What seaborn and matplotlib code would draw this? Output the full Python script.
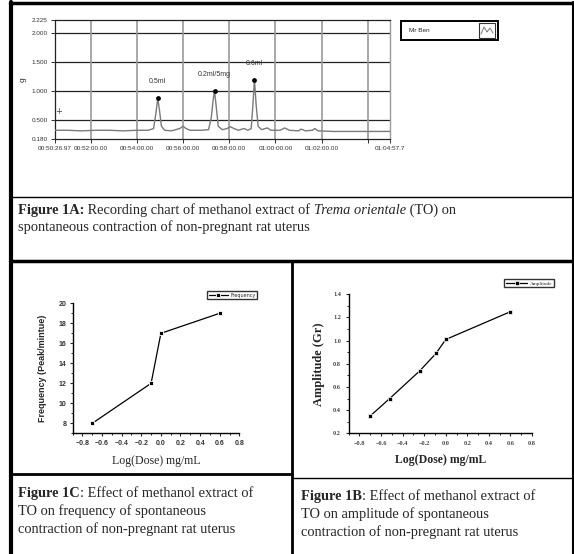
import matplotlib
matplotlib.use("Agg")
import matplotlib.pyplot as plt
import seaborn as sns
import pandas as pd
import numpy as np
from matplotlib.patches import Rectangle
from matplotlib.lines import Line2D
from matplotlib.ticker import MultipleLocator

# ---------------- data ----------------
# Figure 1A: recording trace (time in minutes after 00:00, tension in g)
trace_t = [50.45, 51.0, 51.6, 52.2, 52.8, 53.4, 54.0, 54.5, 54.72, 54.82, 54.9, 54.98, 55.06,
           55.2, 55.5, 55.85, 56.0, 56.12, 56.3, 56.8, 57.1, 57.22, 57.3, 57.36, 57.43, 57.52,
           57.7, 57.9, 58.05, 58.2, 58.4, 58.55, 58.65, 58.8, 58.95, 59.02, 59.09, 59.16, 59.25,
           59.4, 59.55, 59.65, 59.8, 60.2, 60.4, 60.6, 61.0, 61.1, 61.3, 61.6, 61.7, 61.85, 62.5,
           63.5, 64.96]
trace_v = [0.33, 0.33, 0.32, 0.33, 0.33, 0.32, 0.33, 0.33, 0.36, 0.62, 0.88, 0.66, 0.40,
           0.33, 0.32, 0.36, 0.40, 0.36, 0.33, 0.33, 0.34, 0.55, 0.85, 1.01, 0.75, 0.40,
           0.34, 0.36, 0.39, 0.36, 0.33, 0.35, 0.36, 0.33, 0.36, 0.75, 1.20, 0.78, 0.40,
           0.34, 0.36, 0.37, 0.33, 0.33, 0.37, 0.33, 0.32, 0.35, 0.32, 0.33, 0.36, 0.32, 0.31,
           0.31, 0.31]
peak_t = [54.9, 57.36, 59.09]
peak_v = [0.88, 1.01, 1.20]
peak_labels = ["0.5ml", "0.2ml/5mg", "0.6ml"]
y_ticks_1a = [0.18, 0.5, 1.0, 1.5, 2.0, 2.225]
y_ticklabels_1a = ["0.180", "0.500", "1.000", "1.500", "2.000", "2.225"]
x_ticks_1a = [50.4495, 52, 54, 56, 58, 60, 62, 64, 64.9617]
x_ticklabels_1a = ["00:50:26.97", "00:52:00.00", "00:54:00.00", "00:56:00.00", "00:58:00.00",
                   "01:00:00.00", "01:02:00.00", "", "01:04:57.7"]

# Figure 1C: frequency
freq_logdose = [-0.7, -0.1, 0.0, 0.6]
frequency = [8, 12, 17, 19]

# Figure 1B: amplitude
amp_logdose = [-0.7, -0.52, -0.24, -0.09, 0.0, 0.6]
amplitude = [0.35, 0.50, 0.74, 0.89, 1.01, 1.25]

# ---------------- figure ----------------
sns.set_theme(style="white")
plt.rcParams['font.family'] = ['DejaVu Sans']
W, H = 574, 554
fig = plt.figure(figsize=(W / 100, H / 100), dpi=100)
fig.patch.set_facecolor("white")

def add_ax(l, t, r, b):
    return fig.add_axes([l / W, 1 - b / H, (r - l) / W, (b - t) / H])

# overlay for borders and captions (pixel coordinates)
ov = fig.add_axes([0, 0, 1, 1])
ov.set_xlim(0, W)
ov.set_ylim(H, 0)
ov.axis("off")

def hline(y, x0, x1, lw):
    ov.add_line(Line2D([x0, x1], [y, y], color="black", lw=lw))

def vline(x, y0, y1, lw):
    ov.add_line(Line2D([x, x], [y0, y1], color="black", lw=lw))

vline(11, 2, H, 3.0)
hline(3, 10, W, 2.5)
vline(573, 2, H, 1.5)
hline(197, 10, W, 1.0)
hline(261, 10, W, 2.5)
vline(292, 261, H, 2.0)
hline(474, 10, 292, 2.0)
hline(478, 292, W, 1.0)

renderer = fig.canvas.get_renderer()
SERIF = "Liberation Serif"

def rich_line(x, y, parts, size):
    for txt, weight, style in parts:
        t = ov.text(x, y, txt, fontsize=size, family=SERIF, fontweight=weight,
                    fontstyle=style, va="baseline", ha="left")
        x += t.get_window_extent(renderer).width

cap = 10.4
rich_line(18, 214, [("Figure 1A:", "bold", "normal"),
                    (" Recording chart of methanol extract of ", "normal", "normal"),
                    ("Trema orientale", "normal", "italic"),
                    (" (TO) on", "normal", "normal")], cap)
rich_line(18, 231, [("spontaneous contraction of non-pregnant rat uterus", "normal", "normal")], cap)

rich_line(18, 497, [("Figure 1C", "bold", "normal"), (": Effect of methanol extract of", "normal", "normal")], cap)
rich_line(18, 515, [("TO on frequency of spontaneous", "normal", "normal")], cap)
rich_line(18, 533, [("contraction of non-pregnant rat uterus", "normal", "normal")], cap)

rich_line(301, 500, [("Figure 1B", "bold", "normal"), (": Effect of methanol extract of", "normal", "normal")], cap)
rich_line(301, 518, [("TO on amplitude of spontaneous", "normal", "normal")], cap)
rich_line(301, 536, [("contraction of non-pregnant rat uterus", "normal", "normal")], cap)

# ---------------- Figure 1A ----------------
SANS = "Liberation Sans"
ax0 = add_ax(55, 20, 390, 139)
ax0.set_facecolor("white")
for y in [0.5, 1.0, 1.5, 2.0]:
    ax0.axhline(y, color="#222222", lw=0.9, zorder=1)
for x in [52, 54, 56, 58, 60, 62, 64]:
    ax0.axvline(x, color="#999999", lw=1.2, zorder=1)
df_trace = pd.DataFrame({"t": trace_t, "v": trace_v})
sns.lineplot(data=df_trace, x="t", y="v", ax=ax0, color="#7a7a7a", lw=1.0, sort=False,
             estimator=None, zorder=3)
df_peaks = pd.DataFrame({"t": peak_t, "v": peak_v})
sns.scatterplot(data=df_peaks, x="t", y="v", ax=ax0, color="black", s=12, zorder=4,
                edgecolor="black", linewidth=0)
for t, v, lab in zip(peak_t, peak_v, peak_labels):
    ax0.text(t, v + 0.22, lab, fontsize=5, family=SANS, ha="center", va="bottom",
             color="#333333")
ax0.text(50.6, 0.65, "+", fontsize=6, ha="center", va="center", color="#444444")
ax0.set_xlim(50.4495, 64.9617)
ax0.set_ylim(0.18, 2.225)
ax0.set_yticks(y_ticks_1a)
ax0.set_yticklabels(y_ticklabels_1a)
ax0.set_xticks(x_ticks_1a)
ax0.set_xticklabels(x_ticklabels_1a)
ax0.tick_params(axis="both", direction="out", length=3, width=0.7, labelsize=4.6,
                pad=2, colors="#333333", left=True, bottom=True)
for lab in ax0.get_xticklabels() + ax0.get_yticklabels():
    lab.set_family(SANS)
ax0.set_xlabel("")
ax0.set_ylabel("g", fontsize=6, family=SANS, labelpad=4)
for s in ["left", "bottom", "top"]:
    ax0.spines[s].set_color("#222222")
    ax0.spines[s].set_linewidth(0.9)
ax0.spines["right"].set_color("#999999")
ax0.spines["right"].set_linewidth(1.0)

# legend box of 1A
ov.add_patch(Rectangle((401, 21), 97, 19, fill=False, lw=1.4, edgecolor="black"))
ov.text(409, 30.5, "Mr Ben", fontsize=4.6, family=SANS, va="center", ha="left")
ov.add_patch(Rectangle((479, 23), 16, 15, fill=False, lw=0.8, edgecolor="#333333"))
ov.add_line(Line2D([481, 484, 487, 490, 493], [34, 27, 32, 28, 33], color="#777777", lw=0.7))

# ---------------- Figure 1C (frequency) ----------------
ax1 = add_ax(72.7, 303.3, 239.3, 433.3)
df_f = pd.DataFrame({"logdose": freq_logdose, "Frequency": frequency})
sns.lineplot(data=df_f, x="logdose", y="Frequency", ax=ax1, color="black", lw=0.9,
             marker="s", markersize=3, markeredgecolor="white", markeredgewidth=0.6,
             sort=False, estimator=None, label="Frequency")
ax1.set_xlim(-0.9, 0.8)
ax1.set_ylim(7, 20)
ax1.set_xticks(np.round(np.arange(-0.8, 0.81, 0.2), 1))
ax1.set_yticks(range(8, 21, 2))
ax1.xaxis.set_minor_locator(MultipleLocator(0.1))
ax1.yaxis.set_minor_locator(MultipleLocator(1))
ax1.tick_params(which="major", direction="out", length=2.5, width=0.8, labelsize=5,
                pad=2, left=True, bottom=True)
ax1.tick_params(which="minor", direction="out", length=1.5, width=0.7, left=True, bottom=True)
for lab in ax1.get_xticklabels() + ax1.get_yticklabels():
    lab.set_family(SANS)
    lab.set_fontweight("bold")
    lab.set_color("#333333")
for s in ["top", "right"]:
    ax1.spines[s].set_visible(False)
for s in ["left", "bottom"]:
    ax1.spines[s].set_color("black")
    ax1.spines[s].set_linewidth(1.0)
ax1.set_ylabel("Frequency (Peak/mintue)", fontsize=6.5, family=SANS, fontweight="bold",
               labelpad=8)
ax1.set_xlabel("Log(Dose) mg/mL", fontsize=8.5, family=SERIF, labelpad=6)
leg1 = ax1.legend(loc="upper right", bbox_to_anchor=(257 / W, 1 - 291 / H),
                  bbox_transform=fig.transFigure, fontsize=3.5, frameon=True,
                  fancybox=False, edgecolor="black", borderpad=0.35, handlelength=4,
                  handletextpad=0.4, borderaxespad=0)
leg1.get_frame().set_linewidth(1.0)

# ---------------- Figure 1B (amplitude) ----------------
ax2 = add_ax(348.7, 294.3, 532, 433.3)
df_a = pd.DataFrame({"logdose": amp_logdose, "Amplitude": amplitude})
sns.lineplot(data=df_a, x="logdose", y="Amplitude", ax=ax2, color="black", lw=0.9,
             marker="s", markersize=2.8, markeredgecolor="white", markeredgewidth=0.5,
             sort=False, estimator=None, label="Amplitude")
ax2.set_xlim(-0.9, 0.8)
ax2.set_ylim(0.2, 1.4)
ax2.set_xticks(np.round(np.arange(-0.8, 0.81, 0.2), 1))
ax2.set_yticks(np.round(np.arange(0.2, 1.41, 0.2), 1))
ax2.xaxis.set_minor_locator(MultipleLocator(0.1))
ax2.yaxis.set_minor_locator(MultipleLocator(0.1))
ax2.tick_params(which="major", direction="out", length=2.5, width=0.8, labelsize=4.5,
                pad=3, left=True, bottom=True)
ax2.tick_params(which="minor", direction="out", length=1.5, width=0.7, left=True, bottom=True)
for lab in ax2.get_xticklabels() + ax2.get_yticklabels():
    lab.set_family(SERIF)
    lab.set_fontweight("bold")
    lab.set_color("#444444")
for s in ["top", "right"]:
    ax2.spines[s].set_visible(False)
for s in ["left", "bottom"]:
    ax2.spines[s].set_color("black")
    ax2.spines[s].set_linewidth(1.0)
ax2.set_ylabel("Amplitude (Gr)", fontsize=9, family=SERIF, fontweight="bold", labelpad=6)
ax2.set_xlabel("Log(Dose) mg/mL", fontsize=8.5, family=SERIF, fontweight="bold", labelpad=6)
leg2 = ax2.legend(loc="upper right", bbox_to_anchor=(554 / W, 1 - 279 / H),
                  bbox_transform=fig.transFigure, fontsize=3.8, frameon=True,
                  fancybox=False, edgecolor="black", borderpad=0.35, handlelength=4,
                  handletextpad=0.4, borderaxespad=0)
leg2.get_frame().set_linewidth(1.0)
for t in leg2.get_texts():
    t.set_family(SERIF)

fig.savefig("out.png", dpi=100, facecolor="white")
